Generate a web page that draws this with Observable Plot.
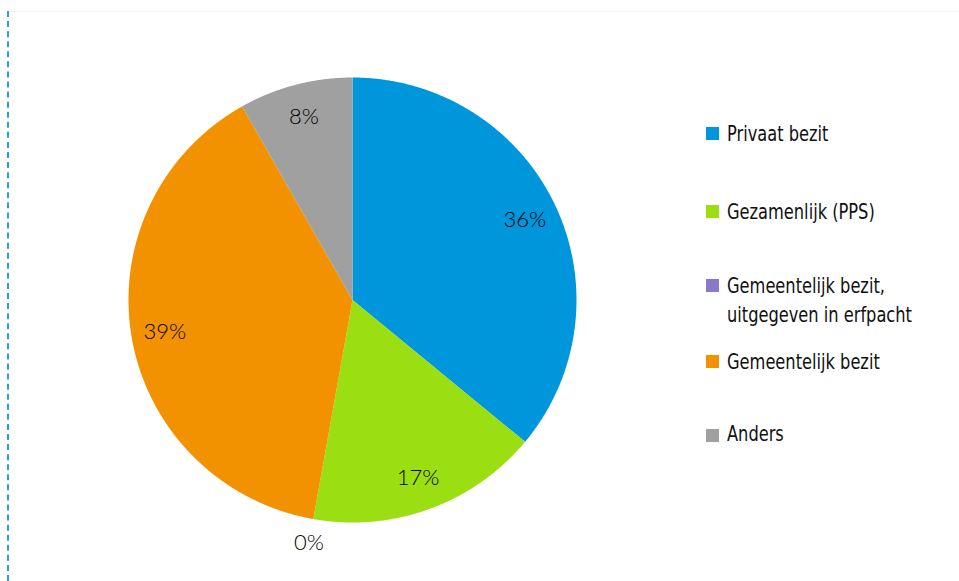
<!DOCTYPE html>
<html><head><meta charset="utf-8">
<script src="https://cdn.jsdelivr.net/npm/d3@7"></script>
<script src="https://cdn.jsdelivr.net/npm/@observablehq/plot@0.6"></script>
<style>
html,body{margin:0;padding:0;background:#fff;}
#wrap{position:relative;width:959px;height:581px;overflow:hidden;}
#edge{position:absolute;left:7px;top:11px;width:0;height:570px;border-left:2px dashed #2a9fdc;}
#topedge{position:absolute;left:9px;top:11px;width:950px;height:0;border-top:1px solid #f4f4f4;}
.lg{position:absolute;left:706px;font-family:"DejaVu Sans Condensed","Liberation Sans Narrow",sans-serif;font-stretch:condensed;font-size:22px;color:#111;line-height:29px;}
.lg .sw{position:absolute;left:0;width:13px;height:13px;}
.lg .tx{position:absolute;left:21px;white-space:nowrap;transform:scaleX(0.82);transform-origin:0 0;}
</style></head>
<body><div id="wrap"><div id="edge"></div><div id="topedge"></div></div>
<script>
const categories = ["Privaat bezit","Gezamenlijk (PPS)","Gemeentelijk bezit, uitgegeven in erfpacht","Gemeentelijk bezit","Anders"];
const legendLines = [["Privaat bezit"],["Gezamenlijk (PPS)"],["Gemeentelijk bezit,","uitgegeven in erfpacht"],["Gemeentelijk bezit"],["Anders"]];
const values = [36.0, 16.8, 0, 39.0, 8.2];
const labels = ["36%","17%","0%","39%","8%"];
const colors = ["#0096dc","#9bde12","#8a78c8","#f29200","#a0a0a0"];

const arcs = d3.pie().sort(null).value(d => d)(values);
const pts = [];
arcs.forEach((a, i) => {
  if (a.endAngle - a.startAngle <= 0) return;
  const n = Math.max(2, Math.ceil((a.endAngle - a.startAngle) / 0.005));
  pts.push({cat: categories[i], x: 0, y: 0});
  for (let k = 0; k <= n; k++) {
    const t = a.startAngle + (a.endAngle - a.startAngle) * k / n;
    pts.push({cat: categories[i], x: Math.sin(t), y: -Math.cos(t)});
  }
});
const labelData = arcs.map((a, i) => {
  const m = (a.startAngle + a.endAngle) / 2;
  const r = values[i] >= 1 ? 0.85 : 1.11;
  return {x: r * Math.sin(m), y: -r * Math.cos(m), text: labels[i]};
});

const chart = Plot.plot({
  width: 959, height: 581, margin: 0,
  style: {background: "transparent"},
  x: {domain: [-1, 1], range: [128, 576], axis: null},
  y: {domain: [-1, 1], range: [77, 522], axis: null},
  color: {domain: categories, range: colors},
  marks: [
    Plot.line(pts, {x: "x", y: "y", z: "cat", fill: "cat", stroke: null}),
    Plot.text(labelData, {x: "x", y: "y", text: "text", fontSize: 22, fontWeight: 300, fontFamily: "Lato, 'Noto Sans', sans-serif", fill: "#000"})
  ]
});
chart.style.position = "absolute";
chart.style.left = "0px";
chart.style.top = "0px";
const wrap = document.getElementById("wrap");
wrap.appendChild(chart);

const legendY = [133, 211, 285, 361, 433];
categories.forEach((c, i) => {
  const d = document.createElement("div");
  d.className = "lg";
  d.style.top = (legendY[i] - 14.5) + "px";
  const sw = document.createElement("div");
  sw.className = "sw";
  sw.style.background = colors[i];
  sw.style.top = (i === 4 ? 10 : 8) + "px";
  d.appendChild(sw);
  const tx = document.createElement("div");
  tx.className = "tx";
  tx.innerHTML = legendLines[i].join("<br>");
  d.appendChild(tx);
  wrap.appendChild(d);
});
</script></body></html>
